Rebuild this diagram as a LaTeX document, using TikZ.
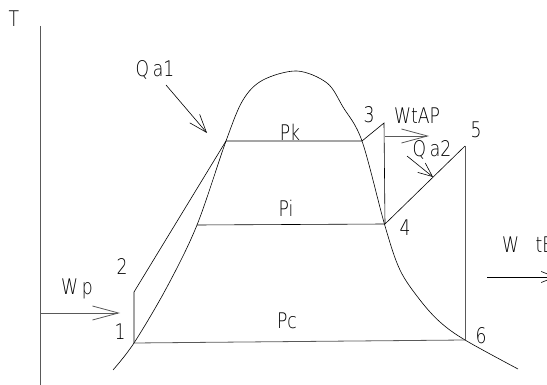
\documentclass[tikz,border=0pt]{standalone}
\usepackage{fontspec}
\setmainfont{DejaVu Sans ExtraLight}[FakeStretch=0.8]
\usetikzlibrary{arrows.meta}
\tikzset{
  ln/.style={line width=0.6pt, black},
  gl/.style={line width=0.8pt, black!65},
  lbl/.style={inner sep=0pt, font=\fontsize{21.5}{21.5}\selectfont},
  bigbarb/.style={-{Straight Barb[length=26pt,width=14pt,line width=0.8pt]}},
  smallbarb/.style={-{Straight Barb[length=14pt,width=12pt,line width=0.6pt]}},
}
\begin{document}
\begin{tikzpicture}[x=1pt,y=-1pt]
\useasboundingbox (0,0) rectangle (547,385);
% axis
\coordinate (axtop) at (40,26);
\coordinate (axbot) at (40,386);
\draw[gl] (axtop) -- (axbot);
\node[lbl] (T) at (14,19) {T};
% points
\coordinate (p1) at (134,343);
\coordinate (p2) at (134,292);
\coordinate (pkl) at (226,141);
\coordinate (pkr) at (362,141);
\coordinate (p3) at (384,123);
\coordinate (p4) at (385,224);
\coordinate (pil) at (197,225);
\coordinate (p5) at (465,146);
\coordinate (p6) at (465,340);
% dome
\draw[ln] plot[smooth, tension=0.55] coordinates {
 (113,370) (134,343) (167,287) (197,225) (226,141) (243,100) (263,80)
 (297,71) (327,83) (343,107) (362,141) (385,226) (400,270) (420,300) (440,322)
 (465,340) (518,369)};
% cycle
\draw[ln] (p1) -- (p2) -- (pkl) -- (pkr) -- (p3) -- (p4) -- (p5);
\draw[gl] (p5) -- (p6);
\draw[ln] (pil) -- (p4);
\draw[gl] (p1) -- (p6);
% labels
\node[lbl] (l1) at (120,332) {1};
\node[lbl] (l2) at (122,267) {2};
\node[lbl] (l3) at (369,115) {3};
\node[lbl] (l4) at (405,228) {4};
\node[lbl] (l5) at (476,130) {5};
\node[lbl] (l6) at (481,336) {6};
\node[lbl, anchor=base] (Pk) at (290,141) {Pk};
\node[lbl] (Pi) at (286,208) {Pi};
\node[lbl] (Pc) at (287,321) {Pc};
% Qa1
\node[lbl] (Qa1) at (155,70) {Q\,a1};
\coordinate (q1s) at (166,85);
\coordinate (q1e) at (207,133);
\draw[ln, -{Straight Barb[length=18pt,width=13pt,line width=0.6pt]}] (q1s) -- (q1e);
% Wp
\node[lbl] (Wp) at (77,289) {W\,p};
\coordinate (wpe) at (120,313);
\draw[gl, bigbarb] (axbot |- wpe) -- (wpe);
% WtAP
\node[lbl] (WtAP) at (417,116) {WtAP};
\coordinate (ws) at (385,136);
\coordinate (we) at (429,136);
\draw[gl, bigbarb] (ws) -- (we);
% Qa2
\node[lbl] (Qa2) at (432,150) {Q\,a2};
\coordinate (q2s) at (407,156);
\coordinate (q2e) at (433,177);
\draw[ln, smallbarb] (q2s) -- (q2e);
% W tE
\node[lbl, anchor=west] (WtE) at (502,245) {W\ \ \ tE};
\coordinate (wes) at (487,277);
\coordinate (wee) at (556,277);
\draw[ln, -{Straight Barb[length=14pt,width=11pt,line width=0.6pt]}] (wes) -- (wee);
\end{tikzpicture}
\end{document}
